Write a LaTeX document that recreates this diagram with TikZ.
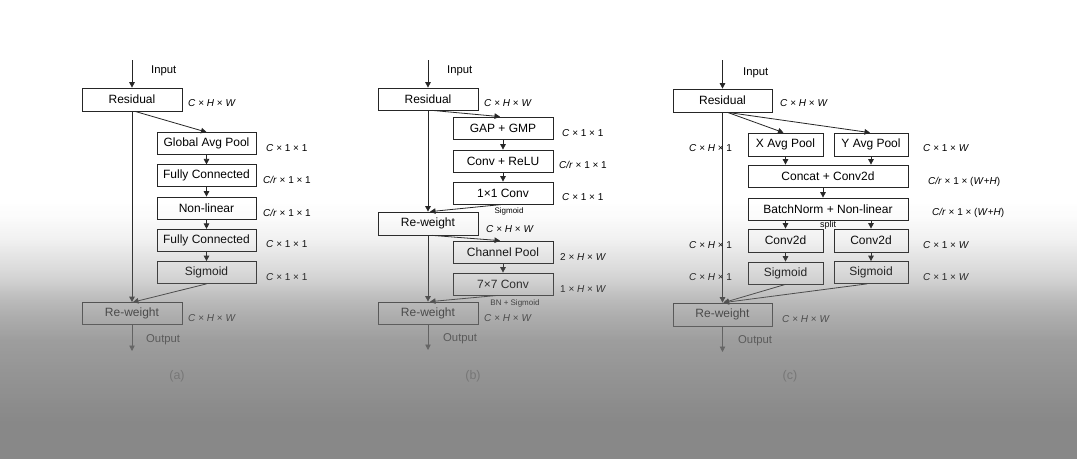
\documentclass[tikz,border=0pt]{standalone}
\usepackage{fontspec}
\setmainfont{Liberation Sans}
\usetikzlibrary{arrows.meta,fadings}
\definecolor{ovgray}{RGB}{124,124,124}
\pgfdeclareverticalshading{ovshade}{100bp}{color(0bp)=(white); color(29.2bp)=(white); color(34bp)=(white!91!black); color(38bp)=(white!82!black); color(40.4bp)=(white!70!black); color(42.3bp)=(white!58!black); color(44.8bp)=(white!36!black); color(48.9bp)=(white!12!black); color(51.6bp)=(white!2!black); color(53bp)=(black); color(100bp)=(black)}
\tikzfading[name=ovfade, shading=ovshade]
\begin{document}
\begin{tikzpicture}[x=1pt,y=-1pt,
 box/.style={draw=black!85, line width=0.75pt, fill=white, minimum height=22pt, inner sep=0pt, font=\fontsize{12}{12}\selectfont},
 lab/.style={anchor=west, inner sep=0pt, font=\fontsize{10}{10}\selectfont},
 sm/.style={inner sep=0pt, font=\fontsize{8}{9}\selectfont},
 io/.style={anchor=west, inner sep=0pt, font=\fontsize{11.3}{12}\selectfont},
 captxt/.style={inner sep=0pt, text=black!62, font=\fontsize{12.5}{13}\selectfont},
 arr/.style={-{Triangle[length=5.5pt,width=5.5pt]}, line width=0.8pt, draw=black!85}]
\fill[white] (0,0) rectangle (1080,459);
\useasboundingbox (0,0) rectangle (1080,459);

% ---------------- panel (a)
\coordinate (ina) at (132,60);
\node[box,minimum width=100pt,minimum height=23pt] (resa) at (132,99.5) {Residual};
\node[box,minimum width=99pt] (gapa) at (206.5,143.5) {Global Avg Pool};
\node[box,minimum width=99pt] (fc1a) at (206.5,175.8) {Fully Connected};
\node[box,minimum width=99pt] (nla) at (206.5,208) {Non-linear};
\node[box,minimum width=99pt] (fc2a) at (206.5,240.3) {Fully Connected};
\node[box,minimum width=99pt] (siga) at (206.5,272.5) {Sigmoid};
\node[box,minimum width=100pt] (rwa) at (132,313.5) {Re-weight};
\coordinate (outa) at (132,351);
\draw[arr] (ina) -- (resa);
\draw[arr] ([xshift=3pt]resa.south) -- (gapa.north);
\draw[arr] (gapa) -- (fc1a);
\draw[arr] (fc1a) -- (nla);
\draw[arr] (nla) -- (fc2a);
\draw[arr] (fc2a) -- (siga);
\draw[arr] (resa.south) -- (rwa.north);
\draw[arr] (siga.south) -- ([xshift=1pt]rwa.north);
\draw[arr] (rwa.south) -- (outa);
\node[lab] (la1) at (188,103) {\textit{C} × \textit{H} × \textit{W}};
\node[lab] (la2) at (266,148) {\textit{C} × 1 × 1};
\node[lab] (la3) at (263,180) {\textit{C/r} × 1 × 1};
\node[lab] (la4) at (263,213) {\textit{C/r} × 1 × 1};
\node[lab] (la5) at (266,244) {\textit{C} × 1 × 1};
\node[lab] (la6) at (266,277) {\textit{C} × 1 × 1};
\node[lab] (la7) at (188,318) {\textit{C} × \textit{H} × \textit{W}};
\node[io] (ia) at (151,71) {Input};
\node[io] (oa) at (146,340) {Output};
\node[captxt] (ca) at (177,376) {(a)};

% ---------------- panel (b)
\coordinate (inb) at (428,60);
\node[box,minimum width=100pt] (resb) at (428,99) {Residual};
\node[box,minimum width=100pt] (gapb) at (503,128) {GAP + GMP};
\node[box,minimum width=100pt] (convb) at (503,161) {Conv + ReLU};
\node[box,minimum width=100pt] (c11b) at (503,193) {1×1 Conv};
\node[box,minimum width=100pt,minimum height=23pt] (rw1b) at (428,223.5) {Re-weight};
\node[box,minimum width=100pt] (cpb) at (503,252) {Channel Pool};
\node[box,minimum width=100pt] (c77b) at (503,284) {7×7 Conv};
\node[box,minimum width=100pt] (rw2b) at (428,313) {Re-weight};
\coordinate (outb) at (428,350);
\draw[arr] (inb) -- (resb);
\draw[arr] ([xshift=4pt]resb.south) -- ([xshift=-3pt]gapb.north);
\draw[arr] (gapb) -- (convb);
\draw[arr] (convb) -- (c11b);
\draw[arr] (c11b.south) -- ([xshift=2pt]rw1b.north);
\draw[arr] (resb.south) -- (rw1b.north);
\draw[arr] ([xshift=4pt]rw1b.south) -- ([xshift=-3pt]cpb.north);
\draw[arr] (cpb) -- (c77b);
\draw[arr] ([xshift=-5pt]c77b.south) -- ([xshift=2pt]rw2b.north);
\draw[arr] (rw1b.south) -- (rw2b.north);
\draw[arr] (rw2b.south) -- (outb);
\node[lab] (lb1) at (484,103) {\textit{C} × \textit{H} × \textit{W}};
\node[lab] (lb2) at (562,133) {\textit{C} × 1 × 1};
\node[lab] (lb3) at (559,165) {\textit{C/r} × 1 × 1};
\node[lab] (lb4) at (562,197) {\textit{C} × 1 × 1};
\node[lab] (lb5) at (486,229) {\textit{C} × \textit{H} × \textit{W}};
\node[lab] (lb6) at (560,257) {2 × \textit{H} × \textit{W}};
\node[lab] (lb7) at (560,289) {1 × \textit{H} × \textit{W}};
\node[lab] (lb8) at (484,318) {\textit{C} × \textit{H} × \textit{W}};
\node[sm] (sb1) at (509,211) {Sigmoid};
\node[sm] (sb2) at (515,303) {BN + Sigmoid};
\node[io] (ib) at (447,71) {Input};
\node[io] (ob) at (443,339) {Output};
\node[captxt] (cb) at (473,376) {(b)};

% ---------------- panel (c)
\coordinate (inc) at (722.5,60);
\node[box,minimum width=99pt,minimum height=23pt] (resc) at (722.5,100.5) {Residual};
\node[box,minimum width=75pt,minimum height=23pt] (xpc) at (785.5,144.5) {X Avg Pool};
\node[box,minimum width=74pt,minimum height=23pt] (ypc) at (871,144.5) {Y Avg Pool};
\node[box,minimum width=160pt] (ccc) at (828,176) {Concat + Conv2d};
\node[box,minimum width=160pt] (bnc) at (828,209) {BatchNorm + Non-linear};
\node[box,minimum width=75pt,minimum height=23pt] (cv1c) at (785.5,240.5) {Conv2d};
\node[box,minimum width=74pt,minimum height=23pt] (cv2c) at (871,240.5) {Conv2d};
\node[box,minimum width=75pt] (sg1c) at (785.5,273) {Sigmoid};
\node[box,minimum width=74pt] (sg2c) at (871,272.5) {Sigmoid};
\node[box,minimum width=99pt,minimum height=23pt] (rwc) at (722.5,314.5) {Re-weight};
\coordinate (outc) at (722.5,352);
\node[lab] (lc1) at (780,103) {\textit{C} × \textit{H} × \textit{W}};
\node[lab] (lc2) at (689,148) {\textit{C} × \textit{H} × 1};
\node[lab] (lc3) at (689,245) {\textit{C} × \textit{H} × 1};
\node[lab] (lc4) at (689,277) {\textit{C} × \textit{H} × 1};
\node[lab] (lc5) at (923,148) {\textit{C} × 1 × \textit{W}};
\node[lab] (lc6) at (923,245) {\textit{C} × 1 × \textit{W}};
\node[lab] (lc7) at (923,277) {\textit{C} × 1 × \textit{W}};
\node[lab] (lc8) at (928,182) {\textit{C/r} × 1 × (\textit{W}+\textit{H})};
\node[lab] (lc9) at (932,213) {\textit{C/r} × 1 × (\textit{W}+\textit{H})};
\node[lab] (lc10) at (782,319) {\textit{C} × \textit{H} × \textit{W}};
\node[sm,font=\fontsize{9}{10}\selectfont] (spc) at (828,225) {split};
\draw[arr] (inc) -- (resc);
\draw[arr] ([xshift=5pt]resc.south) -- ([xshift=-2pt]xpc.north);
\draw[arr] ([xshift=5pt]resc.south) -- ([xshift=-1pt]ypc.north);
\draw[arr] (xpc.south) -- (xpc.south |- ccc.north);
\draw[arr] (ypc.south) -- (ypc.south |- ccc.north);
\draw[arr] ([xshift=-5pt]ccc.south) -- ([xshift=-5pt]bnc.north);
\draw[arr] (cv1c.north |- bnc.south) -- (cv1c.north);
\draw[arr] (cv2c.north |- bnc.south) -- (cv2c.north);
\draw[arr] (cv1c) -- (sg1c);
\draw[arr] (cv2c) -- (sg2c);
\draw[arr] (resc.south) -- (rwc.north);
\draw[arr] (sg1c.south) -- ([xshift=1pt]rwc.north);
\draw[arr] ([xshift=-4pt]sg2c.south) -- ([xshift=1pt]rwc.north);
\draw[arr] (rwc.south) -- (outc);
\node[io] (ic) at (743,73) {Input};
\node[io] (oc) at (738,341) {Output};
\node[captxt] (cc) at (790,376) {(c)};

% ---------------- gray gradient overlay
\fill[ovgray, fill opacity=0.9, path fading=ovfade] (0,0) rectangle (1080,459);
\end{tikzpicture}
\end{document}
